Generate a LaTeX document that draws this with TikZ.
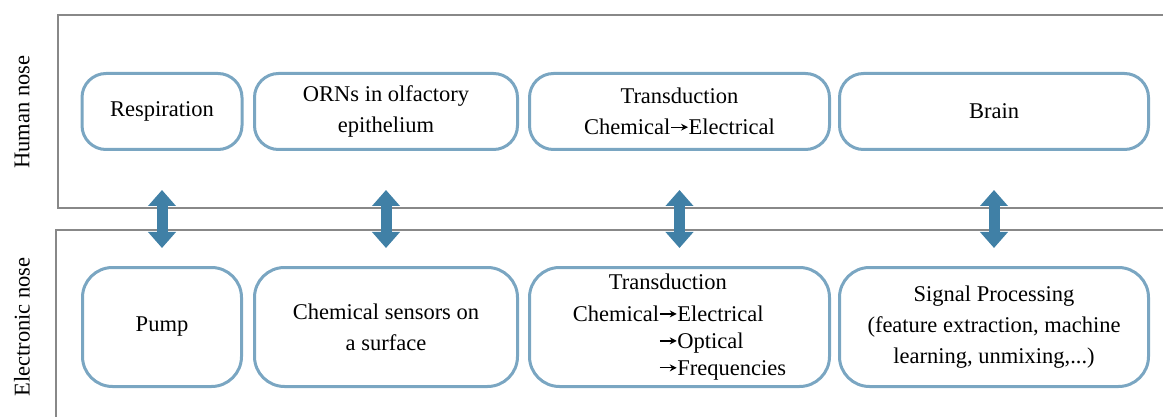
\documentclass[tikz,border=0pt]{standalone}
\usepackage{fontspec}
\setmainfont{Liberation Serif}
\usetikzlibrary{arrows.meta}
\definecolor{boxc}{RGB}{122,166,194}
\definecolor{arrc}{RGB}{64,128,166}
\definecolor{framec}{RGB}{136,136,136}
\newcommand\harr{\tikz[baseline=-7.5pt]\draw[line width=1.3pt,-{Stealth[length=7pt,width=7pt]}] (0pt,0pt)--(17pt,0pt);}
\begin{document}
\begin{tikzpicture}[x=1pt,y=-1pt,
  font=\fontsize{22.5}{31}\selectfont,
  box/.style={draw=boxc, line width=3pt, align=center, inner sep=0pt},
  topbox/.style={box, rounded corners=24pt, minimum height=76pt},
  botbox/.style={box, rounded corners=30pt, minimum height=119pt},
  frame/.style={draw=framec, line width=2pt},
  dblarr/.style={draw=arrc, line width=11pt,
    {Triangle[length=16pt,width=27pt]}-{Triangle[length=16pt,width=27pt]}},
  side/.style={rotate=90}]
\useasboundingbox (0,0) rectangle (1163,417);
% frames
\draw[frame] (1163,15) -| (58,208) -- (1163,208);
\draw[frame] (1163,230) -| (56,417);
% side labels
\node[side] (hn) at (22,112) {Human nose};
\node[side] (en) at (22,327) {Electronic nose};
% top row
\node[topbox, minimum width=160pt] (r1) at (162,111.5) {Respiration};
\node[topbox, minimum width=263pt] (r2) at (386,111.5) {ORNs in olfactory\\epithelium};
\node[topbox, minimum width=300pt] (r3) at (679.5,111.5) {Transduction\\Chemical\harr Electrical};
\node[topbox, minimum width=309pt] (r4) at (994,111.5) {Brain};
% bottom row
\node[botbox, minimum width=159pt] (p1) at (162,327) {Pump};
\node[botbox, minimum width=263pt] (p2) at (386,327) {Chemical sensors on\\a surface};
\node[botbox, minimum width=300pt] (p3) at (679.5,327) {{\renewcommand\arraystretch{0.87}\begin{tabular}{@{}r@{}l@{}}\multicolumn{2}{@{\hspace{36pt}}l@{}}{Transduction}\\[5pt]
Chemical&\harr Electrical\\
&\harr Optical\\
&\harr Frequencies\end{tabular}}};
\node[botbox, minimum width=309pt] (p4) at (994,327) {Signal Processing\\(feature extraction, machine\\learning, unmixing,...)};
% double arrows
\foreach \i in {1,2,3,4}{
  \draw[dblarr, shorten <=39pt, shorten >=18pt] (r\i.south) -- (p\i.north);
}
\end{tikzpicture}
\end{document}
